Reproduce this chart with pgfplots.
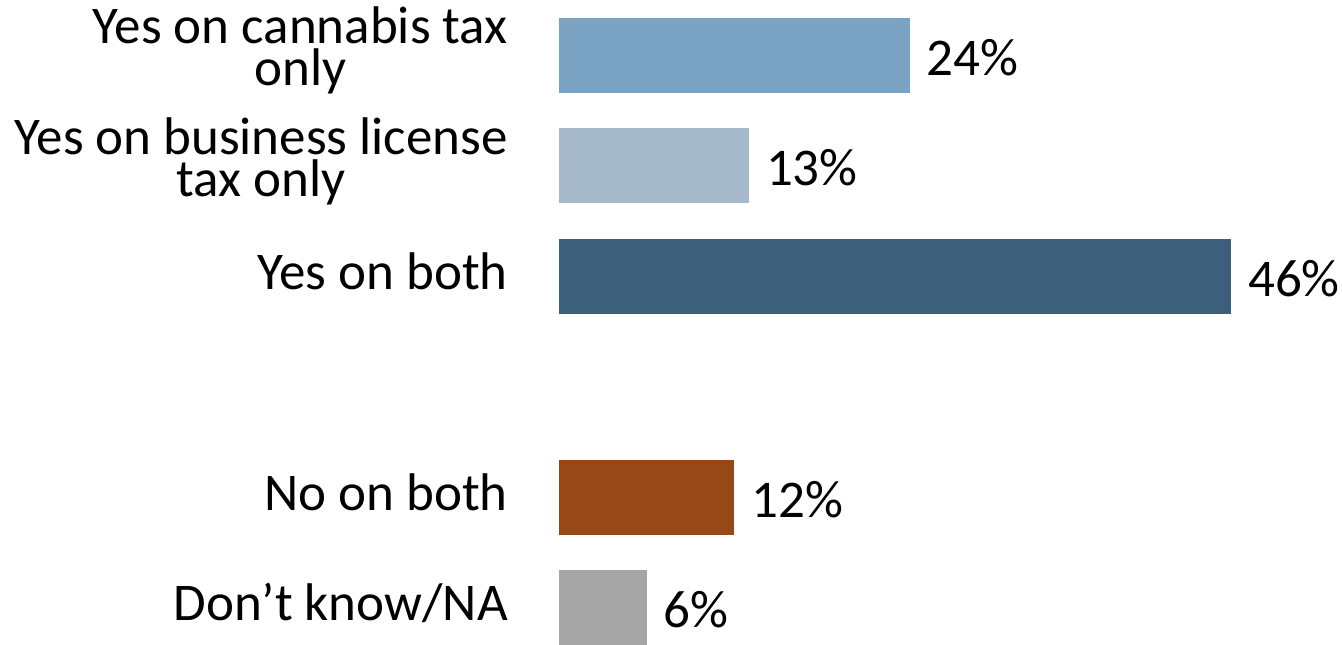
\documentclass[border=0pt]{standalone}
\usepackage{pgfplots}
\pgfplotsset{compat=1.18}
\usepackage{fontspec}
\setmainfont{Carlito}
\definecolor{c1}{HTML}{7AA3C4}
\definecolor{c2}{HTML}{A6B9CB}
\definecolor{c3}{HTML}{3C607B}
\definecolor{c4}{HTML}{984816}
\definecolor{c5}{HTML}{A6A6A6}
\begin{document}
\fontsize{53bp}{41bp}\selectfont
\begin{tikzpicture}
\begin{axis}[
  scale only axis,
  width=672bp, height=645bp,
  xmin=0, xmax=46,
  ymin=-0.502, ymax=5.335,
  y dir=reverse,
  xbar, bar shift=0pt, bar width=75bp,
  axis line style={draw=none},
  tick style={draw=none},
  clip=false,
  xtick=\empty,
  ytick={0,1,2,4,5},
  yticklabels={{Yes on cannabis tax\\only},{Yes on business license\\tax only},{Yes on both},{No on both},{Don’t know/NA}},
  yticklabel style={anchor=east, align=center, inner sep=0pt, xshift=-51bp, yshift=5bp, font=\fontsize{53bp}{42bp}\selectfont},
  major tick length=0pt,
  /pgf/number format/assume math mode=true,
  nodes near coords={\pgfmathprintnumber{\pgfplotspointmeta}\%},
  every node near coord/.append style={anchor=west, inner sep=0pt, xshift=17bp, yshift=-2bp, font=\fontsize{53bp}{41bp}\selectfont, text=black},
]
\addplot[draw=none, fill=c1] coordinates {(24,0)};
\addplot[draw=none, fill=c2] coordinates {(13,1)};
\addplot[draw=none, fill=c3] coordinates {(46,2)};
\addplot[draw=none, fill=c4] coordinates {(12,4)};
\addplot[draw=none, fill=c5] coordinates {(6,5)};
\end{axis}
\pgfresetboundingbox
\path[use as bounding box] ([xshift=-559bp]current axis.south west) rectangle ([xshift=111bp]current axis.north east);
\end{tikzpicture}
\end{document}
